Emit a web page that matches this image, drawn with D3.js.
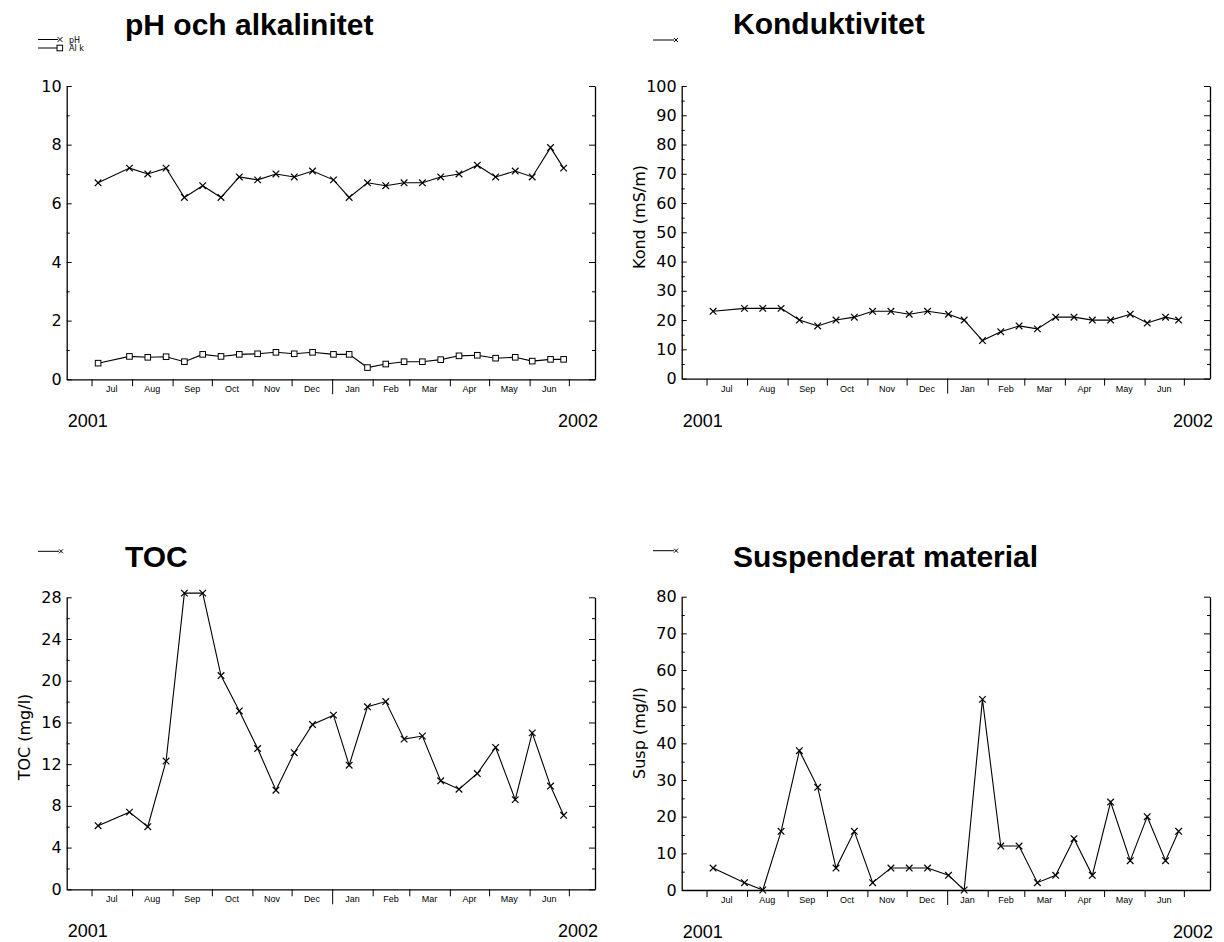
<!DOCTYPE html>
<html>
<head>
<meta charset="utf-8">
<script src="https://cdn.jsdelivr.net/npm/d3@7"></script>
<style>
  html, body { margin: 0; padding: 0; background: #fff; }
  svg { display: block; }
</style>
</head>
<body>
<script>
// Sampling dates (biweekly, Jul 2001 – Jun 2002)
const sampleDates = ["2001-07-06", "2001-07-30", "2001-08-13", "2001-08-27", "2001-09-10", "2001-09-24",
  "2001-10-08", "2001-10-22", "2001-11-05", "2001-11-19", "2001-12-03", "2001-12-17",
  "2002-01-02", "2002-01-14", "2002-01-28", "2002-02-11", "2002-02-25", "2002-03-11",
  "2002-03-25", "2002-04-08", "2002-04-22", "2002-05-06", "2002-05-21", "2002-06-03",
  "2002-06-17", "2002-06-27"];

const phValues = [6.7, 7.2, 7.0, 7.2, 6.2, 6.6, 6.2, 6.9, 6.8, 7.0, 6.9, 7.1, 6.8,
  6.2, 6.7, 6.6, 6.7, 6.7, 6.9, 7.0, 7.3, 6.9, 7.1, 6.9, 7.9, 7.2];
const alkValues = [0.55, 0.78, 0.75, 0.77, 0.6, 0.85, 0.78, 0.85, 0.87, 0.92, 0.87, 0.92, 0.85,
  0.85, 0.4, 0.52, 0.6, 0.6, 0.67, 0.8, 0.82, 0.72, 0.75, 0.62, 0.68, 0.68];
const kondValues = [23, 24, 24, 24, 20, 18, 20, 21, 23, 23, 22, 23, 22,
  20, 13, 16, 18, 17, 21, 21, 20, 20, 22, 19, 21, 20];
const tocValues = [6.1, 7.4, 6.0, 12.3, 28.4, 28.4, 20.5, 17.1, 13.5, 9.5, 13.1, 15.8, 16.7,
  11.9, 17.5, 18.0, 14.4, 14.7, 10.4, 9.6, 11.1, 13.6, 8.6, 15.0, 9.9, 7.1];
const suspValues = [6, 2, 0, 16, 38, 28, 6, 16, 2, 6, 6, 6, 4,
  0, 52, 12, 12, 2, 4, 14, 4, 24, 8, 20, 8, 16];

const monthLabels = ["Jul", "Aug", "Sep", "Oct", "Nov", "Dec", "Jan", "Feb", "Mar", "Apr", "May", "Jun"];
const yearLabels = ["2001", "2002"];
const timeDomain = ["2001-06-12", "2002-07-21"];

const parse = d3.timeParse("%Y-%m-%d");
const dates = sampleDates.map(parse);

const W = 1224, H = 942;
const svg = d3.select("body").append("svg").attr("width", W).attr("height", H);

const AXIS_FONT = "'DejaVu Sans', sans-serif";
const TEXT_FONT = "'Liberation Sans', Arial, sans-serif";

// Four panels: layout + which series they draw
const panels = [
  { title: "pH och alkalinitet", left: 66.7, top: 86, bottom: 379.3, titleX: 125, titleY: 35,
    yMax: 10, major: 2, minor: 1, ylabel: null, ylabelY: 0,
    series: [{ name: "pH", values: phValues, marker: "x" }, { name: "Al k", values: alkValues, marker: "square" }] },
  { title: "Konduktivitet", left: 681.7, top: 86, bottom: 378.6, titleX: 733, titleY: 34,
    yMax: 100, major: 10, minor: 5, ylabel: "Kond (mS/m)", ylabelY: 217,
    series: [{ name: "", values: kondValues, marker: "x" }] },
  { title: "TOC", left: 66.7, top: 597.3, bottom: 889.3, titleX: 125, titleY: 567,
    yMax: 28, major: 4, minor: 2, ylabel: "TOC (mg/l)", ylabelY: 737,
    series: [{ name: "", values: tocValues, marker: "x" }] },
  { title: "Suspenderat material", left: 681.7, top: 596.7, bottom: 890, titleX: 733, titleY: 567,
    yMax: 80, major: 10, minor: 5, ylabel: "Susp (mg/l)", ylabelY: 733,
    series: [{ name: "", values: suspValues, marker: "x" }] }
];

const PANEL_W = 528.3;

function drawMarker(g, kind, x, y) {
  if (kind === "x") {
    const s = 3.3;
    g.append("path")
      .attr("d", `M${x - s},${y - s}L${x + s},${y + s}M${x - s},${y + s}L${x + s},${y - s}`)
      .attr("stroke", "#000").attr("stroke-width", 1.2).attr("fill", "none");
  } else {
    const s = 2.8;
    g.append("rect").attr("x", x - s).attr("y", y - s).attr("width", 2 * s).attr("height", 2 * s)
      .attr("fill", "#fff").attr("stroke", "#000").attr("stroke-width", 1);
  }
}

panels.forEach(p => {
  const right = p.left + PANEL_W;
  const x = d3.scaleTime().domain(timeDomain.map(parse)).range([p.left, right]);
  const y = d3.scaleLinear().domain([0, p.yMax]).range([p.bottom, p.top]);
  const g = svg.append("g");

  // Title
  g.append("text").attr("x", p.titleX).attr("y", p.titleY)
    .attr("font-family", TEXT_FONT).attr("font-weight", "bold").attr("font-size", 30)
    .attr("fill", "#000").text(p.title);

  // Legend
  const legY = p.top - 46;
  if (p.series.length === 2) {
    p.series.forEach((s, i) => {
      const ly = 39.5 + i * 8.5;
      g.append("line").attr("x1", 38).attr("x2", 58).attr("y1", ly).attr("y2", ly)
        .attr("stroke", "#000").attr("stroke-width", 1);
      if (s.marker === "x") {
        g.append("path").attr("d", `M57.5,${ly - 2.5}L62.5,${ly + 2.5}M57.5,${ly + 2.5}L62.5,${ly - 2.5}`)
          .attr("stroke", "#000").attr("stroke-width", 1).attr("fill", "none");
      } else {
        g.append("rect").attr("x", 57).attr("y", ly - 2.8).attr("width", 5.6).attr("height", 5.6)
          .attr("fill", "#fff").attr("stroke", "#000").attr("stroke-width", 1);
      }
      g.append("text").attr("x", 69).attr("y", ly + 3)
        .attr("font-family", AXIS_FONT).attr("font-size", 8).attr("fill", "#000").text(s.name);
    });
  } else {
    const lx = p.left - 28.7;
    g.append("line").attr("x1", lx).attr("x2", lx + 21).attr("y1", legY).attr("y2", legY)
      .attr("stroke", "#000").attr("stroke-width", 1);
    g.append("path").attr("d", `M${lx + 21},${legY - 2}L${lx + 25},${legY + 2}M${lx + 21},${legY + 2}L${lx + 25},${legY - 2}`)
      .attr("stroke", "#000").attr("stroke-width", 1).attr("fill", "none");
  }

  // Left y axis: inward ticks with labels
  const yMajor = d3.range(0, p.yMax + 1e-9, p.major);
  const yMinor = d3.range(0, p.yMax + 1e-9, p.minor).filter(v => !yMajor.includes(v));
  const leftAxis = g.append("g").attr("transform", `translate(${p.left},0)`)
    .call(d3.axisLeft(y).tickValues(yMajor).tickSizeInner(-5).tickSizeOuter(0).tickPadding(5).tickFormat(d3.format("d")));
  leftAxis.select(".domain").attr("stroke-width", 1.3);
  leftAxis.selectAll("text").attr("font-family", AXIS_FONT).attr("font-size", 16).attr("fill", "#000");
  g.append("g").attr("transform", `translate(${p.left},0)`)
    .call(d3.axisLeft(y).tickValues(yMinor).tickSizeInner(-3).tickSizeOuter(0).tickFormat(""))
    .select(".domain").remove();

  // Right y axis: inward ticks, no labels
  const rightAxis = g.append("g").attr("transform", `translate(${right},0)`)
    .call(d3.axisRight(y).tickValues(yMajor).tickSizeInner(-6).tickSizeOuter(0).tickFormat(""));
  rightAxis.select(".domain").attr("stroke-width", 1.3);
  g.append("g").attr("transform", `translate(${right},0)`)
    .call(d3.axisRight(y).tickValues(yMinor).tickSizeInner(-3).tickSizeOuter(0).tickFormat(""))
    .select(".domain").remove();

  // Bottom time axis: month boundaries as downward ticks, longer tick at new year
  const monthStarts = d3.timeMonth.range(parse("2001-07-01"), parse("2002-07-02"));
  const bottomAxis = g.append("g").attr("transform", `translate(0,${p.bottom})`)
    .call(d3.axisBottom(x).tickValues(monthStarts).tickSizeInner(7).tickSizeOuter(0).tickFormat(""));
  bottomAxis.select(".domain").attr("stroke-width", 1.3);
  bottomAxis.selectAll(".tick line").attr("y2", d => d.getMonth() === 0 ? 15 : 7);

  // Month names centred between the boundaries
  monthStarts.slice(0, -1).forEach((d, i) => {
    const mid = new Date((d.getTime() + monthStarts[i + 1].getTime()) / 2);
    g.append("text").attr("x", x(mid)).attr("y", p.bottom + 13)
      .attr("text-anchor", "middle").attr("font-family", TEXT_FONT).attr("font-size", 9)
      .attr("fill", "#000").text(monthLabels[i]);
  });

  // Year labels
  g.append("text").attr("x", p.left + 1).attr("y", p.bottom + 48)
    .attr("font-family", TEXT_FONT).attr("font-size", 18).attr("fill", "#000").text(yearLabels[0]);
  g.append("text").attr("x", right + 3).attr("y", p.bottom + 48).attr("text-anchor", "end")
    .attr("font-family", TEXT_FONT).attr("font-size", 18).attr("fill", "#000").text(yearLabels[1]);

  // Y axis title
  if (p.ylabel) {
    const cx = p.left - 37;
    g.append("text").attr("transform", `translate(${cx},${p.ylabelY}) rotate(-90)`)
      .attr("text-anchor", "middle").attr("font-family", AXIS_FONT).attr("font-size", 16)
      .attr("fill", "#000").text(p.ylabel);
  }

  // Series lines and markers
  const line = d3.line().x((d, i) => x(dates[i])).y(d => y(d));
  p.series.forEach(s => {
    g.append("path").datum(s.values).attr("d", line)
      .attr("fill", "none").attr("stroke", "#000").attr("stroke-width", 1.1);
    s.values.forEach((v, i) => drawMarker(g, s.marker, x(dates[i]), y(v)));
  });
});
</script>
</body>
</html>
